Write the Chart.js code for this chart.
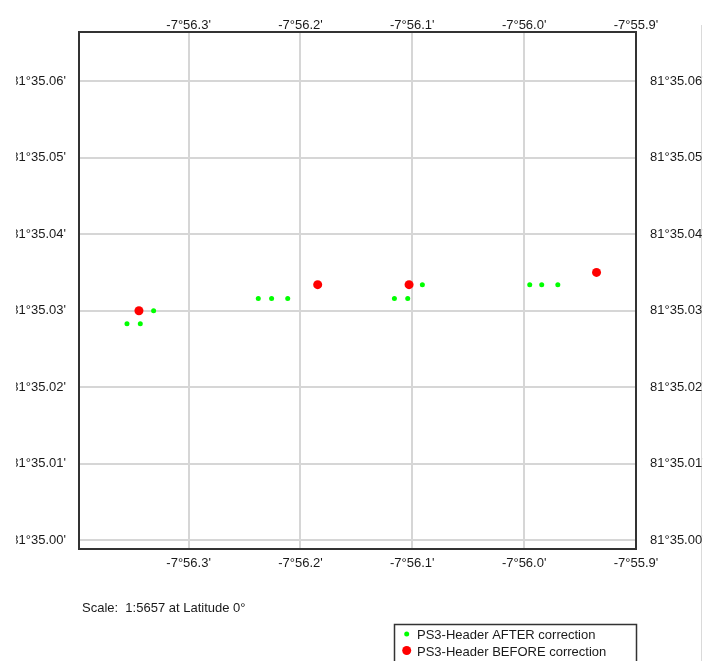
<!DOCTYPE html>
<html>
<head>
<meta charset="utf-8">
<script src="https://cdn.jsdelivr.net/npm/chart.js@4/dist/chart.umd.min.js"></script>
<style>
  body { margin:0; background:#fff; width:703px; height:661px; overflow:hidden; position:relative; font-family:"Liberation Sans", Arial, sans-serif; }
  #edge { position:absolute; left:701px; top:25px; width:1px; height:636px; background:#dadada; }
  #chart { position:absolute; left:16px; top:0; }
  #scale { position:absolute; left:82px; top:600px; font-size:13px; line-height:16px; color:#1a1a1a; white-space:pre; }
</style>
</head>
<body>
<div id="edge"></div>
<canvas id="chart" width="687" height="661"></canvas>
<div id="scale">Scale:  1:5657 at Latitude 0°</div>
<script>
// positions in minutes: longitude -7°xx.xxx', latitude 81°xx.xxx'
var afterLon = [-56.3551, -56.3432, -56.3313, -56.2377, -56.2258, -56.2114, -56.1160, -56.1041, -56.0910, -55.9950, -55.9843, -55.9699];
var afterLat = [35.0283, 35.0283, 35.0300, 35.0316, 35.0316, 35.0316, 35.0316, 35.0316, 35.0334, 35.0334, 35.0334, 35.0334];
var beforeLon = [-56.3444, -56.1846, -56.1029, -55.9353];
var beforeLat = [35.0300, 35.0334, 35.0334, 35.0350];
var lonTicks = [-56.3, -56.2, -56.1, -56.0, -55.9];
var latTicks = [35.00, 35.01, 35.02, 35.03, 35.04, 35.05, 35.06];
var lonRange = [-56.398, -55.9];
var latRange = [34.99888, 35.0664];

function pts(xs, ys){
  var out = [];
  for(var i=0;i<xs.length;i++) out.push({x: xs[i], y: ys[i]});
  return out;
}
function lonLabel(v){ return "-7°" + Math.abs(v).toFixed(1) + "'"; }
function latLabel(v){ return "81°" + v.toFixed(2) + "'"; }

var font = {family: '"Liberation Sans", Arial, sans-serif', size: 13};
var ink = '#1a1a1a';
var frame = {display: true, color: '#333', width: 2};

function xAxis(pos, grid, pad, h){
  return {
    type: 'linear', axis: 'x', position: pos,
    min: lonRange[0], max: lonRange[1],
    afterBuildTicks: function(s){ s.ticks = lonTicks.map(function(v){ return {value: v}; }); },
    afterFit: function(s){ s.height = h; },
    grid: {display: grid, color: '#d6d6d6', lineWidth: 2, drawTicks: false},
    border: frame,
    ticks: {font: font, color: ink, padding: pad, maxRotation: 0, autoSkip: false, callback: lonLabel}
  };
}
function yAxis(pos, grid, pad, w){
  return {
    type: 'linear', axis: 'y', position: pos,
    min: latRange[0], max: latRange[1],
    afterBuildTicks: function(s){ s.ticks = latTicks.map(function(v){ return {value: v}; }); },
    afterFit: function(s){ s.width = w; },
    grid: {display: grid, color: '#d6d6d6', lineWidth: 2, drawTicks: false},
    border: frame,
    ticks: {font: font, color: ink, padding: pad, autoSkip: false, callback: latLabel}
  };
}

// legend box under the map, drawn from the datasets
var boxLegend = {
  id: 'boxLegend',
  afterDraw: function(chart){
    var c = chart.ctx;
    c.save();
    c.strokeStyle = '#333';
    c.lineWidth = 1.5;
    c.strokeRect(378.5, 624.5, 242, 50);
    c.font = '13px "Liberation Sans", Arial, sans-serif';
    c.fillStyle = ink;
    c.textBaseline = 'middle';
    var rows = [635.5, 652];
    chart.data.datasets.forEach(function(ds, i){
      c.beginPath();
      c.fillStyle = ds.backgroundColor;
      c.arc(390.7, rows[i] - 1.5, ds.pointRadius, 0, Math.PI*2);
      c.fill();
      c.fillStyle = ink;
      c.fillText(ds.label, 401, rows[i]);
    });
    c.restore();
  }
};

new Chart(document.getElementById('chart'), {
  type: 'scatter',
  data: {
    datasets: [{
      label: 'PS3-Header AFTER correction',
      data: pts(afterLon, afterLat),
      backgroundColor: '#00ff00', borderWidth: 0, pointRadius: 2.5,
      xAxisID: 'x', yAxisID: 'y'
    }, {
      label: 'PS3-Header BEFORE correction',
      data: pts(beforeLon, beforeLat),
      backgroundColor: '#ff0000', borderWidth: 0, pointRadius: 4.5,
      xAxisID: 'x', yAxisID: 'y'
    }]
  },
  options: {
    responsive: false,
    animation: false,
    layout: {padding: 0},
    plugins: {legend: {display: false}, tooltip: {enabled: false}},
    scales: {
      x: xAxis('bottom', true, 6.5, 112),
      xTop: xAxis('top', false, -1, 32),
      y: yAxis('left', true, 13, 63),
      yRight: yAxis('right', false, 14, 67)
    }
  },
  plugins: [boxLegend]
});
</script>
</body>
</html>
